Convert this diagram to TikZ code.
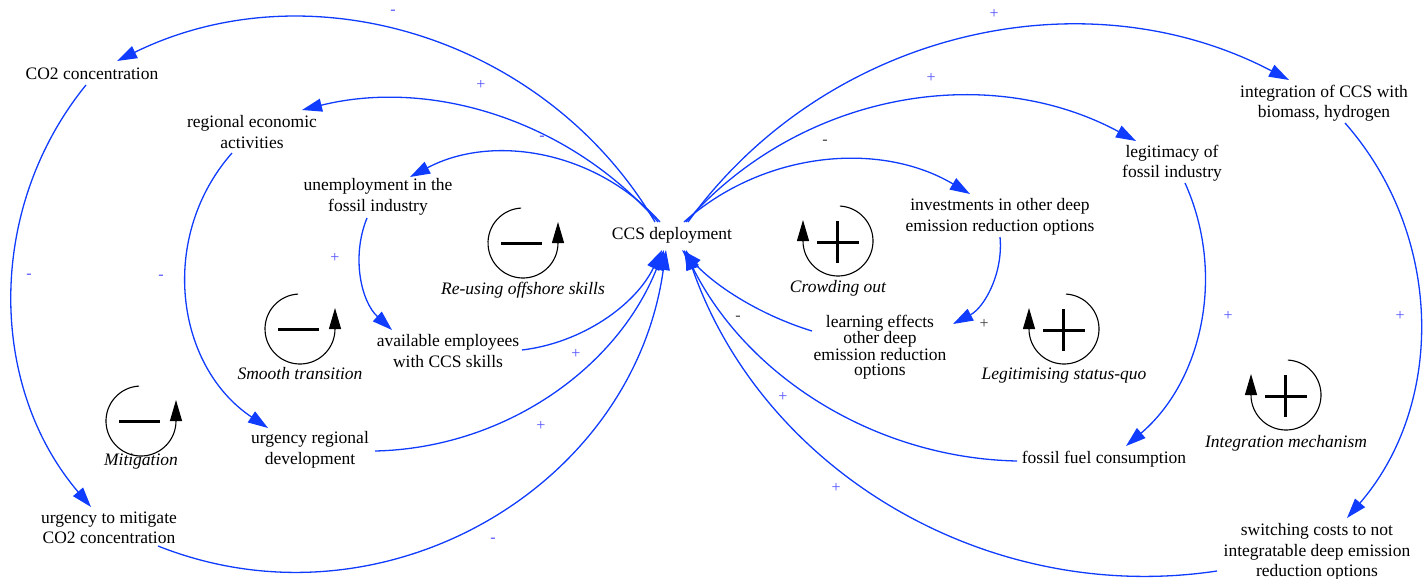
\documentclass[tikz,border=0pt]{standalone}
\usepackage{fontspec}
\setmainfont{Liberation Serif}
\usetikzlibrary{arrows.meta}

\definecolor{linkblue}{RGB}{15,60,255}
\definecolor{polblue}{RGB}{80,80,255}
\definecolor{poldark}{RGB}{60,60,60}

\begin{document}
\begin{tikzpicture}[x=1pt, y=1pt, >={Triangle[length=20pt,width=13pt]},
		var/.style={align=center, inner sep=2pt, font=\fontsize{17.5}{20.5}\selectfont},
		link/.style={->, linkblue, line width=1.3pt},
		pol/.style={polblue, inner sep=0pt, font=\fontsize{16}{16}\selectfont},
		poldk/.style={pol, poldark},
		loopname/.style={font=\fontsize{17.5}{20.5}\selectfont\itshape},
		loopsym/.style={black, line width=1.1pt, -{Triangle[length=21pt,width=12pt]}},
		loopmark/.style={black, line width=3pt}]
	\useasboundingbox (0,0) rectangle (1426,-578);
	
	% 1. variables
	\node[var] (ccs) at (672,-235) {CCS deployment};
	\node[var] (co2) at (92,-74) {CO2 concentration};
	\node[var] (regecon) at (252,-132) {regional economic\\activities};
	\node[var] (unemp) at (378,-197) {unemployment in the\\fossil industry};
	\node[var] (avail) at (448,-351) {available employees\\with CCS skills};
	\node[var] (urgreg) at (310,-450) {urgency regional\\development};
	\node[var] (urgmit) at (109,-528) {urgency to mitigate\\CO2 concentration};
	\node[var] (integ) at (1324,-103) {integration of CCS with\\biomass, hydrogen};
	\node[var] (legit) at (1172,-163) {legitimacy of\\fossil industry};
	\node[var] (invest) at (1000,-217) {investments in other deep\\emission reduction options};
	\node[var, font=\fontsize{17.5}{14.8}\selectfont] (learn) at (880,-347) {learning effects\\other deep\\emission reduction\\options};
	\node[var] (fossil) at (1104,-459) {fossil fuel consumption};
	\node[var] (switch) at (1317,-552) {switching costs to not\\integratable deep emission\\reduction options};
	
	% 2. links, left half
	\draw[link] ([shift={(-17,13)}]ccs.center) to[bend right=42.8, looseness=0.98] ([shift={(25,13)}]co2.center);
	\draw[link] ([shift={(-14,13)}]ccs.center) to[bend right=31.4, looseness=0.92] ([shift={(50,22)}]regecon.center);
	\draw[link] ([shift={(-12,13)}]ccs.center) to[bend right=38.1, looseness=0.95] ([shift={(32,20)}]unemp.center);
	\draw[link] ([shift={(-11,-21)}]unemp.center) to[bend right=34.8, looseness=0.935] ([shift={(-56,21)}]avail.center);
	\draw[link] ([shift={(74,1)}]avail.center) to[bend right=28.7, looseness=0.907] ([shift={(-10,-15)}]ccs.center);
	\draw[link] ([shift={(-20,-21)}]regecon.center) to[bend right=48.8, looseness=1.03] ([shift={(-42,22)}]urgreg.center);
	\draw[link] ([shift={(65,-1)}]urgreg.center) to[bend right=33.6, looseness=0.93] ([shift={(-8,-15)}]ccs.center);
	\draw[link] ([shift={(-6,-11)}]co2.center) to[bend right=39.8, looseness=0.96] ([shift={(-18,21)}]urgmit.center);
	\draw[link] ([shift={(49,-18)}]urgmit.center) to[bend right=51.9, looseness=1.05] ([shift={(-6,-15)}]ccs.center);
	
	% 3. links, right half
	\draw[link] ([shift={(16,13)}]ccs.center) to[bend left=40.9, looseness=0.97] ([shift={(-35,23)}]integ.center);
	\draw[link] ([shift={(14,13)}]ccs.center) to[bend left=38.5, looseness=0.955] ([shift={(-36,22)}]legit.center);
	\draw[link] ([shift={(12,13)}]ccs.center) to[bend left=36.2, looseness=0.94] ([shift={(-30,23)}]invest.center);
	\draw[link] ([shift={(0,-20)}]invest.center) to[bend left=33.8, looseness=0.93] ([shift={(73,23)}]learn.center);
	\draw[link] ([shift={(-68,16)}]learn.center) to[bend left=14.9, looseness=0.87] ([shift={(10,-15)}]ccs.center);
	\draw[link] ([shift={(13,-20)}]legit.center) to[bend left=36.9, looseness=0.95] ([shift={(22,13)}]fossil.center);
	\draw[link] ([shift={(-87,-2)}]fossil.center) to[bend left=31.2, looseness=0.92] ([shift={(12,-15)}]ccs.center);
	\draw[link] ([shift={(21,-20)}]integ.center) to[bend left=41.1, looseness=0.97] ([shift={(30,34)}]switch.center);
	\draw[link] ([shift={(-100,-19)}]switch.center) to[bend left=39.7, looseness=0.96] ([shift={(14,-15)}]ccs.center);
	
	% 4. link polarities
	\node[pol] (pol1) at (393,-12) {-};
	\node[pol] (pol2) at (481,-85) {+};
	\node[pol] (pol3) at (542,-138) {-};
	\node[pol] (pol4) at (335,-258) {+};
	\node[pol] (pol5) at (576,-354) {+};
	\node[pol] (pol6) at (161,-277) {-};
	\node[pol] (pol7) at (541,-426) {+};
	\node[pol] (pol8) at (29,-276) {-};
	\node[pol] (pol9) at (493,-540) {-};
	\node[pol] (pol10) at (994,-14) {+};
	\node[pol] (pol11) at (931,-78) {+};
	\node[poldk] (pol12) at (825,-142) {-};
	\node[poldk] (pol13) at (984,-324) {+};
	\node[poldk] (pol14) at (738,-318) {-};
	\node[pol] (pol15) at (1228,-316) {+};
	\node[pol] (pol16) at (783,-397) {+};
	\node[pol] (pol17) at (1400,-316) {+};
	\node[pol] (pol18) at (836,-488) {+};
	
	% 5. balancing loops
	\foreach \cx/\cy/\ly/\name/\txt in {523/243/290/reuse/Re-using offshore skills, 300/329/374/smooth/Smooth transition, 141/421/462/mitig/Mitigation}{
		\draw[loopsym] ([shift={(93:35)}]\cx,-\cy) arc[start angle=93, end angle=360, radius=35] -- ++(0,21);
		\draw[loopmark] (\cx-22,-\cy) -- (\cx+19,-\cy);
		\node[loopname] (\name) at (\cx,-\ly) {\txt};
	}
	
	% 6. reinforcing loops
	\foreach \cx/\cy/\ly/\name/\txt in {838/241/288/crowd/Crowding out, 1064/329/376/legsq/Legitimising status-quo, 1286/395/443/integm/Integration mechanism}{
		\draw[loopsym] ([shift={(87:35)}]\cx,-\cy) arc[start angle=87, end angle=-180, radius=35] -- ++(0,21);
		\draw[loopmark] (\cx-21,-\cy-1) -- (\cx+21,-\cy-1);
		\draw[loopmark] (\cx-1,-\cy+20) -- (\cx-1,-\cy-22);
		\node[loopname] (\name) at (\cx,-\ly) {\txt};
	}
\end{tikzpicture}
\end{document}
